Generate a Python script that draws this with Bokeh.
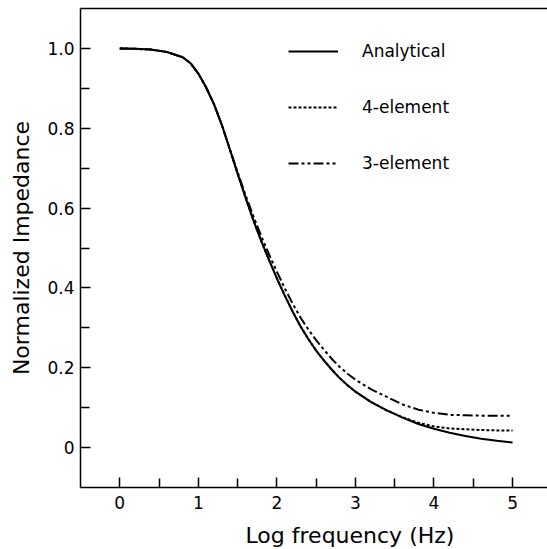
from bokeh.plotting import figure
from bokeh.models import FixedTicker, LinearAxis, Legend, LegendItem, Title, Range1d
from bokeh.embed import file_html
from bokeh.resources import INLINE

# ---- data ----
x_analytical = [0.0, 0.2, 0.4, 0.6, 0.8, 0.9, 1.0, 1.1, 1.2, 1.3, 1.4, 1.5, 1.6, 1.7, 1.8, 1.9,
                2.0, 2.1, 2.2, 2.3, 2.4, 2.5, 2.6, 2.7, 2.8, 2.9, 3.0, 3.2, 3.4, 3.6, 3.8,
                4.0, 4.2, 4.4, 4.6, 4.8, 5.0]
y_analytical = [1.000, 0.999, 0.997, 0.991, 0.978, 0.963, 0.937, 0.902, 0.860, 0.808, 0.748,
                0.686, 0.627, 0.570, 0.518, 0.470, 0.424, 0.381, 0.341, 0.304, 0.272, 0.243,
                0.218, 0.195, 0.174, 0.156, 0.140, 0.114, 0.093, 0.075, 0.059, 0.047, 0.037,
                0.029, 0.022, 0.017, 0.013]

x_4element = [0.0, 0.2, 0.4, 0.6, 0.8, 0.9, 1.0, 1.1, 1.2, 1.3, 1.4, 1.5, 1.6, 1.7, 1.8, 1.9,
              2.0, 2.1, 2.2, 2.3, 2.4, 2.5, 2.6, 2.7, 2.8, 2.9, 3.0, 3.2, 3.4, 3.6, 3.8,
              4.0, 4.2, 4.4, 4.6, 4.8, 5.0]
y_4element = [1.000, 0.999, 0.997, 0.991, 0.978, 0.963, 0.937, 0.902, 0.860, 0.808, 0.748,
              0.686, 0.627, 0.570, 0.518, 0.470, 0.424, 0.381, 0.341, 0.304, 0.272, 0.243,
              0.218, 0.195, 0.174, 0.156, 0.140, 0.114, 0.093, 0.076, 0.062, 0.053, 0.048,
              0.046, 0.044, 0.043, 0.043]

x_3element = [0.0, 0.2, 0.4, 0.6, 0.8, 0.9, 1.0, 1.1, 1.2, 1.3, 1.4, 1.5, 1.6, 1.7, 1.8, 1.9,
              2.0, 2.1, 2.2, 2.3, 2.4, 2.5, 2.6, 2.7, 2.8, 2.9, 3.0, 3.2, 3.4, 3.6, 3.8,
              4.0, 4.2, 4.4, 4.6, 4.8, 5.0]
y_3element = [1.000, 0.999, 0.997, 0.991, 0.978, 0.963, 0.937, 0.902, 0.860, 0.808, 0.748,
              0.690, 0.633, 0.580, 0.530, 0.484, 0.441, 0.399, 0.361, 0.326, 0.296, 0.269,
              0.245, 0.222, 0.202, 0.185, 0.170, 0.146, 0.127, 0.108, 0.095, 0.087, 0.082,
              0.081, 0.080, 0.080, 0.080]

x_ticks = [0, 1, 2, 3, 4, 5]
x_minor = [0.5, 1.5, 2.5, 3.5, 4.5]
y_ticks = [0, 0.2, 0.4, 0.6, 0.8, 1.0]
y_minor = [0.1, 0.3, 0.5, 0.7, 0.9]
y_tick_labels = {0: "0", 0.2: "0.2", 0.4: "0.4", 0.6: "0.6", 0.8: "0.8", 1.0: "1.0"}

series_labels = ["Analytical", "4-element", "3-element"]
x_label = "Log frequency (Hz)"
y_label = "Normalized Impedance"

FONT = "DejaVu Sans"

p = figure(width=547, height=549, x_range=Range1d(-0.5, 5.445), y_range=Range1d(-0.1, 1.1),
           output_backend="svg", toolbar_location=None,
           min_border_left=80, min_border_right=0, min_border_top=8, min_border_bottom=62)
p.grid.visible = False
p.outline_line_color = None

r1 = p.line(x_analytical, y_analytical, line_width=2, line_color="black")
r2 = p.line(x_4element, y_4element, line_width=2, line_color="black", line_dash="3 2")
r3 = p.line(x_3element, y_3element, line_width=2, line_color="black", line_dash="10 3 3 3 3 3")

for ax in (p.xaxis[0], p.yaxis[0]):
    ax.axis_line_width = 1.5
    ax.axis_line_color = "black"
    ax.major_tick_in = 10
    ax.major_tick_out = 0
    ax.minor_tick_in = 9
    ax.minor_tick_out = 0
    ax.major_tick_line_width = 1.5
    ax.minor_tick_line_width = 1.5
    ax.major_tick_line_color = "black"
    ax.minor_tick_line_color = "black"
    ax.major_label_text_font = FONT
    ax.major_label_text_font_size = "17px"
    ax.major_label_text_color = "black"

p.xaxis[0].ticker = FixedTicker(ticks=x_ticks, minor_ticks=x_minor)
p.xaxis[0].major_label_standoff = 8
p.yaxis[0].ticker = FixedTicker(ticks=y_ticks, minor_ticks=y_minor)
p.yaxis[0].major_label_overrides = y_tick_labels
p.yaxis[0].major_label_standoff = 6
p.yaxis[0].axis_label = y_label
p.yaxis[0].axis_label_text_font = FONT
p.yaxis[0].axis_label_text_font_size = "22px"
p.yaxis[0].axis_label_text_font_style = "normal"
p.yaxis[0].axis_label_text_color = "black"
p.yaxis[0].axis_label_standoff = 10

# top frame line
top = LinearAxis(ticker=FixedTicker(ticks=[]), axis_line_width=1.5, axis_line_color="black",
                 major_tick_in=0, major_tick_out=0, minor_tick_in=0, minor_tick_out=0,
                 major_label_text_font_size="0px")
p.add_layout(top, "above")

# x axis title, placed off-centre as in the reference
p.add_layout(Title(text=x_label, align="left", offset=165, text_font=FONT,
                   text_font_size="22px", text_font_style="normal", text_color="black",
                   vertical_align="bottom", standoff=0, padding=(0, 0, 9, 0)), "below")

legend = Legend(items=[LegendItem(label=series_labels[0], renderers=[r1]),
                       LegendItem(label=series_labels[1], renderers=[r2]),
                       LegendItem(label=series_labels[2], renderers=[r3])],
                location=(208, 314), glyph_width=50, glyph_height=20, label_height=20,
                spacing=36, label_standoff=24, padding=0, margin=0,
                border_line_color=None, background_fill_alpha=0,
                label_text_font=FONT, label_text_font_size="17px", label_text_color="black")
p.add_layout(legend)

open("out.html", "w").write(file_html(p, INLINE))
